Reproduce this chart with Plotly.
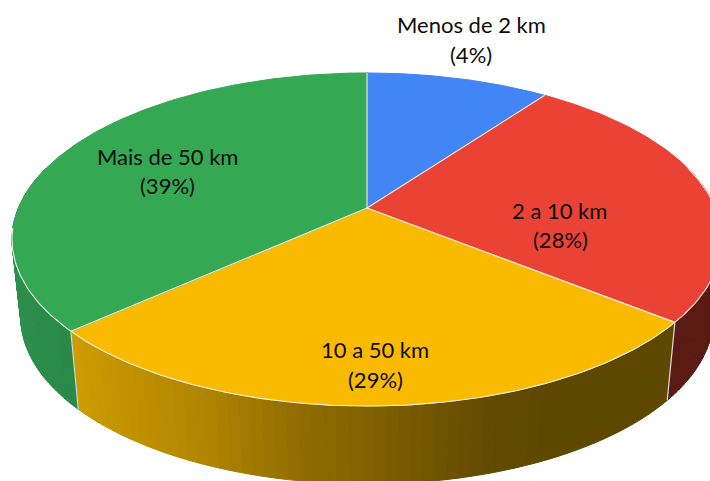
import numpy as np
import plotly.graph_objects as go

# Data
categories = ["Menos de 2 km", "2 a 10 km", "10 a 50 km", "Mais de 50 km"]
percent_labels = [4, 28, 29, 39]
drawn_shares = [10.0, 25.8, 27.5, 36.7]
top_colors = ["#4285F4", "#EA4335", "#F9BA00", "#34A853"]

# Label anchors (pixels) and font
label_line1 = [(471, 24), (559, 210), (375, 349), (167, 156)]
label_line2 = [(471, 54), (560, 239), (375, 379), (167, 185)]
FONT = "Lato"
FSIZE = 22

# Projection of the pie disc
CX, CY = 367, 208
RX, RY, K = 348.6, 160.6, 0.189
DEPTH, SHRINK = 78, 0.975
FRONT_START, FRONT_END = np.radians(75), np.radians(263)


def top_rim(t):
    s = 1 / (1 + K * np.cos(t))
    return CX + RX * np.sin(t) * s, CY - RY * np.cos(t) * s


def low_rim(t):
    x, y = top_rim(t)
    return CX + (x - CX) * SHRINK, y + DEPTH


def lerp_colour(stops, x):
    xs = [p[0] for p in stops]
    return "rgb(%d,%d,%d)" % tuple(
        np.interp(x, xs, [p[1][i] for p in stops]) for i in range(3)
    )


wall_stops = {
    1: [(600, (90, 26, 20)), (710, (90, 26, 20))],
    2: [(78, (204, 156, 0)), (200, (178, 134, 0)), (300, (146, 110, 0)),
        (400, (122, 92, 0)), (490, (98, 74, 0)), (560, (94, 72, 0))],
    3: [(14, (45, 144, 76)), (78, (42, 136, 72))],
}

edges = np.radians(np.cumsum([0] + drawn_shares) / sum(drawn_shares) * 360)
fig = go.Figure()


def poly(xs, ys, colour, line_colour=None, width=1):
    fig.add_trace(go.Scatter(
        x=xs, y=ys, mode="lines", fill="toself", fillcolor=colour,
        line=dict(color=line_colour or colour, width=width),
        hoverinfo="skip", showlegend=False))


def stroke(xs, ys, colour, width):
    fig.add_trace(go.Scatter(x=xs, y=ys, mode="lines",
                             line=dict(color=colour, width=width),
                             hoverinfo="skip", showlegend=False))


# Side walls: narrow strips, visible front arc of each slice
for i in (1, 2, 3):
    a0, a1 = edges[i], edges[i + 1]
    if i == 1:
        a0 = FRONT_START
    if i == 3:
        a1 = np.radians(285)
    ts = np.linspace(a0, a1, 60)
    for t0, t1 in zip(ts[:-1], ts[1:]):
        tt = np.array([t0, t1])
        xt, yt = top_rim(tt)
        xb, yb = low_rim(tt)
        xs = [xt[0], xt[1], xb[1], xb[0], xt[0]]
        ys = [yt[0], yt[1], yb[1], yb[0], yt[0]]
        poly(xs, ys, lerp_colour(wall_stops[i], float(np.mean(xs))))

# Wall separators
for e in (edges[2], edges[3]):
    xt, yt = top_rim(e)
    xb, yb = low_rim(e)
    stroke([xt, xb], [yt, yb], "#d8d8d8", 1.2)

# Top face
for i, c in enumerate(top_colors):
    ts = np.linspace(edges[i], edges[i + 1], 160)
    x, y = top_rim(ts)
    poly([CX, *x, CX], [CY, *y, CY], c)

# Light edges: spokes between slices and the front rim only
for e in edges[:4]:
    xt, yt = top_rim(e)
    stroke([CX, xt], [CY, yt], "#efefe8", 1.1)
xr, yr = top_rim(np.linspace(FRONT_START, FRONT_END, 300))
stroke(xr, yr, "#efefe8", 1.1)

annotations = []
for cat, pct, p1, p2 in zip(categories, percent_labels, label_line1, label_line2):
    for txt, p in ((cat, p1), (f"({pct}%)", p2)):
        annotations.append(dict(
            x=p[0], y=p[1], xref="x", yref="y", text=txt, showarrow=False,
            font=dict(family=FONT, size=FSIZE, color="#0d0d0d"),
            xanchor="center", yanchor="middle"))

fig.update_layout(
    width=710, height=481, margin=dict(l=0, r=0, t=0, b=0),
    paper_bgcolor="white", plot_bgcolor="white", showlegend=False,
    annotations=annotations,
    xaxis=dict(range=[0, 710], visible=False, fixedrange=True),
    yaxis=dict(range=[481, 0], visible=False, fixedrange=True),
)
fig.write_html("out.html", config={"displayModeBar": False},
               post_script="document.body.style.margin='0';document.documentElement.style.overflow='hidden';")
